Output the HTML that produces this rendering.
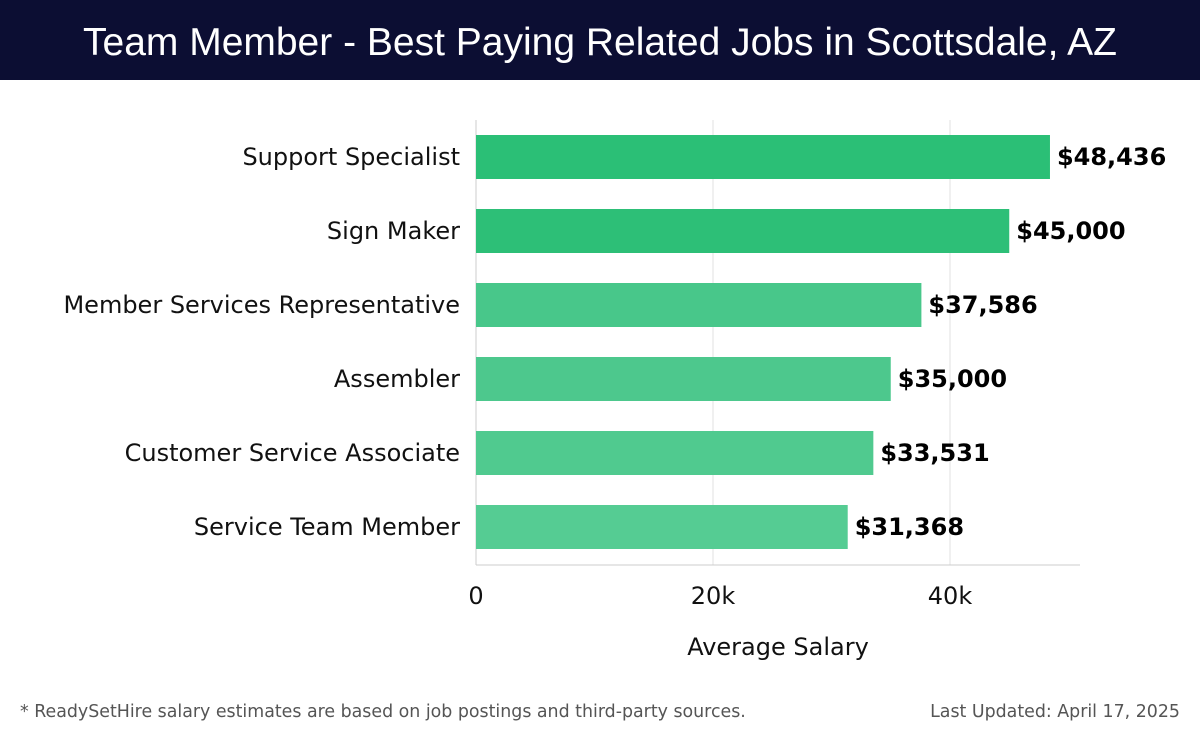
<!DOCTYPE html>
<html><head><meta charset="utf-8"><style>
body{margin:0;width:1200px;height:740px;background:#fff;font-family:"DejaVu Sans","Liberation Sans",sans-serif;overflow:hidden;position:relative}
#hdr{position:absolute;left:0;top:0;width:1200px;height:80px;background:#0c0e33;color:#fff;font-family:"Liberation Sans",sans-serif;font-size:39px;text-align:center;line-height:86px}
.foot{position:absolute;top:702px;font-size:17.4px;color:#555}
</style></head><body>
<div id="hdr">Team Member - Best Paying Related Jobs in Scottsdale, AZ</div>
<svg id="chart" width="1200" height="740" style="position:absolute;left:0;top:0"></svg>
<div class="foot" style="left:20px">* ReadySetHire salary estimates are based on job postings and third-party sources.</div>
<div class="foot" style="right:20px">Last Updated: April 17, 2025</div>
<script>
const categories=["Support Specialist","Sign Maker","Member Services Representative","Assembler","Customer Service Associate","Service Team Member"];
const values=[48436,45000,37586,35000,33531,31368];
const ticks=[0,20000,40000];
const tickLabels=["0","20k","40k"];
const colors=["#2bbf76","#2dbf77","#48c78a","#4dc88d","#50ca8f","#55cc93"];
const NS="http://www.w3.org/2000/svg";
const svg=document.getElementById('chart');
const x0=476,pxPer=237/20000,top0=120,band=74,barH=44;
const xs=v=>x0+v*pxPer;
const yc=i=>top0+37+i*band;
function mk(t,a){const e=document.createElementNS(NS,t);for(const k in a)e.setAttribute(k,a[k]);svg.appendChild(e);return e;}
ticks.forEach((t,i)=>{
 const g=mk('line',{x1:xs(t),x2:xs(t),y1:top0,y2:565,stroke:i==0?'#ccc':'#e2e2e2','stroke-width':1});
 
 
 const l=mk('text',{x:xs(t),y:604,'text-anchor':'middle','font-size':24,fill:'#111'});
 l.textContent=tickLabels[i];
 
 
});
const ax=mk('line',{x1:x0,x2:1080,y1:565,y2:565,stroke:'#ccc'});


const at=mk('text',{x:778,y:655,'text-anchor':'middle','font-size':24,fill:'#111'});
at.textContent='Average Salary';


categories.forEach((c,i)=>{
 const r=mk('rect',{x:x0,y:yc(i)-barH/2,width:xs(values[i])-x0,height:barH,fill:colors[i]});
 
 
 const lb=mk('text',{x:460,y:yc(i)+8,'text-anchor':'end','font-size':24,fill:'#111'});
 lb.textContent=c;
 
 
 const v=mk('text',{x:xs(values[i])+7,y:yc(i)+8,'font-size':24,'font-weight':'bold',fill:'#000'});
 v.textContent='$'+values[i].toLocaleString('en-US');
 
 
});
</script>
</body></html>
